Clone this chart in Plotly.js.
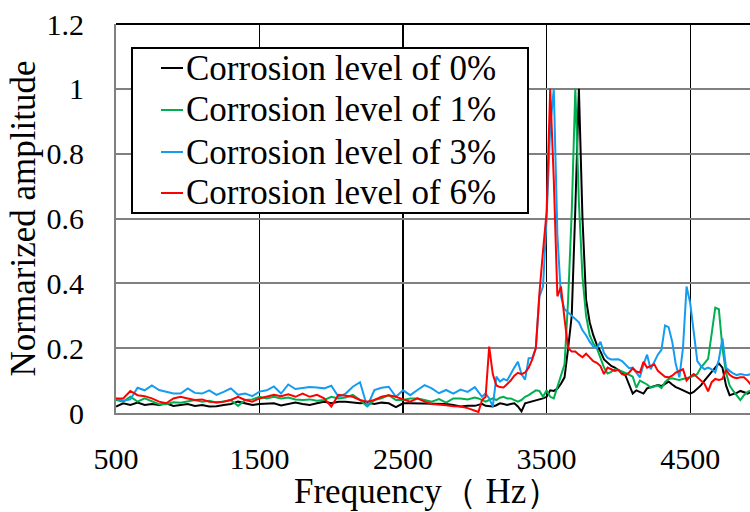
<!DOCTYPE html>
<html>
<head>
<meta charset="utf-8">
<script src="https://cdn.plot.ly/plotly-3.0.1.min.js"></script>
<style>html,body{margin:0;padding:0;background:#fff;}#chart{width:750px;height:512px;}</style>
</head>
<body>
<div id="chart"></div>
<script>
// Frequency grid (Hz)
const freq = [
  500,550,600,650,700,750,800,850,900,950,
  1000,1050,1100,1150,1200,1250,1300,1350,1400,1450,
  1500,1550,1600,1650,1700,1750,1800,1850,1900,1950,
  2000,2050,2100,2150,2200,2250,2300,2350,2400,2450,
  2500,2550,2600,2650,2700,2750,2800,2850,2900,2950,
  3000,
  3025,3050,3075,3100, 3125,3150,3175,3200, 3225,3250,3275,3300, 3325,3350,3375,3400,
  3425,3450,3475,3500, 3525,3550,3575,3600, 3625,3650,3675,3700, 3725,3750,3775,3800,
  3825,3850,3875,3900, 3925,3950,3975,4000, 4025,4050,4075,4100, 4125,4150,4175,4200,
  4225,4250,4275,4300, 4325,4350,4375,4400, 4425,4450,4475,4500, 4525,4550,4575,4600,
  4625,4650,4675,4700, 4725,4750,4775,4800, 4825,4850,4875,4900, 4925,4950
];

const level0 = [
  0.020,0.030,0.025,0.032,0.025,0.028,0.025,0.030,0.022,0.025,
  0.028,0.022,0.025,0.020,0.021,0.025,0.028,0.035,0.030,0.025,
  0.028,0.028,0.030,0.023,0.028,0.032,0.028,0.025,0.030,0.035,
  0.030,0.035,0.035,0.032,0.030,0.032,0.028,0.032,0.030,0.018,
  0.030,0.030,0.030,0.028,0.030,0.028,0.028,0.025,0.020,0.022,
  0.022,
  0.025,0.028,0.022,0.022, 0.020,0.024,0.030,0.028, 0.025,0.028,0.030,0.020, 0.005,0.030,0.033,0.035,
  0.040,0.043,0.045,0.050, 0.070,0.068,0.075,0.090, 0.110,0.200,0.300,0.630, 1.000,0.600,0.350,0.280,
  0.240,0.210,0.190,0.165, 0.155,0.145,0.140,0.133, 0.125,0.115,0.090,0.060, 0.070,0.065,0.060,0.076,
  0.080,0.083,0.086,0.083, 0.090,0.097,0.088,0.080, 0.075,0.070,0.065,0.060, 0.065,0.075,0.085,0.100,
  0.115,0.127,0.140,0.153, 0.140,0.085,0.055,0.058, 0.062,0.068,0.065,0.060, 0.065,0.070
];

const level1 = [
  0.040,0.035,0.050,0.035,0.045,0.035,0.027,0.027,0.033,0.032,
  0.037,0.040,0.035,0.038,0.032,0.035,0.040,0.022,0.040,0.042,
  0.050,0.045,0.050,0.045,0.048,0.042,0.040,0.042,0.038,0.040,
  0.050,0.045,0.048,0.056,0.040,0.020,0.040,0.045,0.055,0.040,
  0.040,0.045,0.045,0.040,0.035,0.043,0.032,0.045,0.045,0.042,
  0.048,
  0.045,0.040,0.035,0.040, 0.045,0.040,0.047,0.050, 0.045,0.045,0.040,0.035, 0.040,0.050,0.055,0.062,
  0.070,0.068,0.050,0.070, 0.050,0.045,0.080,0.110, 0.150,0.350,0.620,1.000, 0.650,0.420,0.300,0.240,
  0.215,0.200,0.170,0.140, 0.122,0.127,0.135,0.133, 0.128,0.124,0.118,0.112, 0.078,0.100,0.095,0.088,
  0.078,0.082,0.085,0.077, 0.095,0.105,0.107,0.104, 0.102,0.105,0.107,0.110, 0.115,0.120,0.140,0.155,
  0.167,0.245,0.325,0.320, 0.200,0.125,0.085,0.068, 0.055,0.040,0.055,0.065, 0.070,0.075
];

const level3 = [
  0.045,0.038,0.042,0.078,0.070,0.085,0.071,0.065,0.060,0.060,
  0.076,0.062,0.060,0.070,0.056,0.065,0.076,0.056,0.060,0.052,
  0.066,0.070,0.082,0.060,0.088,0.074,0.076,0.080,0.079,0.076,
  0.084,0.050,0.060,0.081,0.095,0.020,0.071,0.078,0.081,0.050,
  0.070,0.055,0.071,0.086,0.076,0.061,0.071,0.060,0.072,0.065,
  0.080,
  0.065,0.050,0.060,0.045, 0.020,0.112,0.097,0.105, 0.100,0.122,0.140,0.158, 0.120,0.103,0.169,0.170,
  0.200,0.360,0.390,0.600, 0.880,1.000,0.550,0.360, 0.320,0.310,0.300,0.290, 0.280,0.255,0.240,0.220,
  0.205,0.200,0.220,0.185, 0.170,0.165,0.165,0.166, 0.160,0.150,0.138,0.140, 0.125,0.110,0.150,0.180,
  0.135,0.160,0.180,0.195, 0.270,0.265,0.220,0.150, 0.110,0.200,0.390,0.340, 0.240,0.160,0.145,0.135,
  0.140,0.135,0.125,0.165, 0.230,0.140,0.130,0.122, 0.117,0.120,0.118,0.117, 0.120,0.120
];

const level6 = [
  0.045,0.045,0.068,0.055,0.052,0.045,0.035,0.030,0.045,0.050,
  0.045,0.040,0.042,0.035,0.033,0.035,0.040,0.050,0.040,0.035,
  0.045,0.050,0.056,0.052,0.058,0.050,0.060,0.050,0.056,0.045,
  0.020,0.056,0.052,0.050,0.040,0.035,0.040,0.050,0.055,0.050,
  0.042,0.035,0.045,0.035,0.028,0.027,0.024,0.021,0.020,0.015,
  0.007,
  0.003,0.040,0.050,0.205, 0.120,0.085,0.080,0.079, 0.090,0.100,0.115,0.124, 0.120,0.125,0.140,0.165,
  0.200,0.370,0.500,0.620, 1.000,0.720,0.360,0.390, 0.290,0.200,0.190,0.190, 0.180,0.172,0.183,0.170,
  0.160,0.155,0.145,0.120, 0.140,0.135,0.130,0.133, 0.120,0.117,0.125,0.138, 0.128,0.125,0.158,0.140,
  0.145,0.150,0.130,0.120, 0.112,0.110,0.115,0.125, 0.130,0.135,0.100,0.112, 0.120,0.110,0.097,0.090,
  0.067,0.095,0.105,0.102, 0.105,0.133,0.118,0.110, 0.107,0.110,0.110,0.100, 0.086,0.085
];

const seriesNames = ["Corrosion level of 0%", "Corrosion level of 1%", "Corrosion level of 3%", "Corrosion level of 6%"];
const seriesColors = ["#000000", "#00B050", "#139CF0", "#FF0000"];
const seriesValues = [level0, level1, level3, level6];

const xTickVals = [500, 1500, 2500, 3500, 4500];
const xTickText = ["500", "1500", "2500", "3500", "4500"];
const yTickVals = [0, 0.2, 0.4, 0.6, 0.8, 1, 1.2];
const yTickText = ["0", "0.2", "0.4", "0.6", "0.8", "1", "1.2"];
const xTitle = "Frequency（ Hz）";
const yTitle = "Normarized amplitude";

const serif = "Liberation Serif";

const traces = seriesValues.map((vals, i) => ({
  type: "scatter",
  mode: "lines",
  x: freq,
  y: vals,
  name: seriesNames[i],
  line: {color: seriesColors[i], width: 2},
  showlegend: false
}));

// manual legend (pixel geometry converted to paper coords)
const L = 116, T = 24, W = 634, H = 389;
const px = v => (v - L) / W;
const py = v => (T + H - v) / H;
const rowY = [68, 110, 152, 193];

const shapes = [
  {type: "line", xref: "paper", yref: "paper", x0: 0, x1: 1, y0: 1, y1: 1,
   line: {color: "#000000", width: 2}},
  {type: "rect", xref: "paper", yref: "paper", x0: px(132), x1: px(528), y0: py(213), y1: py(48),
   fillcolor: "#ffffff", line: {color: "#000000", width: 2}, layer: "above"}
];
const annotations = [];
seriesNames.forEach((n, i) => {
  shapes.push({type: "line", xref: "paper", yref: "paper", x0: px(161), x1: px(183), y0: py(rowY[i]), y1: py(rowY[i]),
    line: {color: seriesColors[i], width: 2}, layer: "above"});
  annotations.push({xref: "paper", yref: "paper", x: px(184), y: py(rowY[i]), xanchor: "left", yanchor: "middle",
    text: n, showarrow: false, font: {family: serif, size: 35, color: "#000000"}});
});
// x-axis title
annotations.push({xref: "paper", yref: "paper", x: px(427), y: py(492), xanchor: "center", yanchor: "middle",
  text: xTitle, showarrow: false, font: {family: serif, size: 35, color: "#000000"}});

const layout = {
  width: 750, height: 512,
  margin: {l: L, r: 0, t: T, b: 512 - T - H},
  paper_bgcolor: "#ffffff", plot_bgcolor: "#ffffff",
  showlegend: false,
  font: {family: serif, color: "#000000"},
  xaxis: {
    range: [500, 4917],
    tickmode: "array", tickvals: xTickVals, ticktext: xTickText,
    showgrid: true, gridcolor: "#000000", gridwidth: 1.3,
    showline: true, linecolor: "#808080", linewidth: 2,
    zeroline: false, ticks: "",
    tickfont: {family: serif, size: 30, color: "#000000"},
    ticklabelstandoff: 18
  },
  yaxis: {
    range: [0, 1.2],
    tickmode: "array", tickvals: yTickVals, ticktext: yTickText,
    showgrid: true, gridcolor: "#808080", gridwidth: 2,
    showline: true, linecolor: "#808080", linewidth: 2,
    zeroline: false, ticks: "",
    tickfont: {family: serif, size: 30, color: "#000000"},
    ticklabelstandoff: 24,
    title: {text: yTitle, font: {family: serif, size: 35, color: "#000000"}, standoff: 0}
  },
  shapes: shapes,
  annotations: annotations
};

Plotly.newPlot("chart", traces, layout, {displayModeBar: false, staticPlot: true});
</script>
</body>
</html>
